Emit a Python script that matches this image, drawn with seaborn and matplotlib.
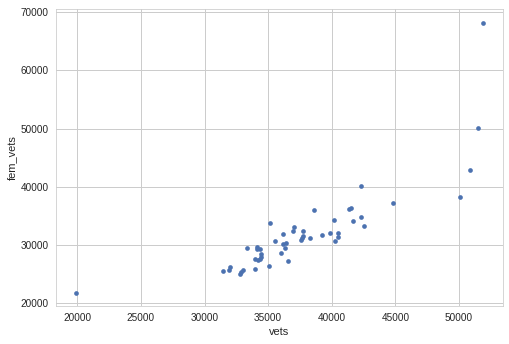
import matplotlib
matplotlib.use("Agg")
import matplotlib.pyplot as plt
import seaborn as sns
import pandas as pd

vets = [19921, 31447, 31921, 32000, 32763, 32895, 33026, 33342,
        34105, 34158, 34342, 34447, 34474, 33974, 34184, 34342, 33974,
        35079, 35158, 35553, 36026, 36184, 36184, 36289, 36421, 36553,
        36974, 37053, 37711, 37763, 37650, 37600, 38316, 38632, 39263,
        39895, 40211, 40289, 40526, 40526, 41342, 41553, 41711, 42263,
        42263, 42500, 44789, 50053, 50868, 51500, 51868]
fem_vets = [21873, 25618, 25789, 26300, 25108, 25448, 25675, 29535,
            29705, 29364, 29364, 28513, 27945, 27662, 27378, 27548, 25959,
            26470, 33791, 30726, 28683, 31918, 30159, 29478, 30443, 27321,
            32429, 33110, 31521, 32429, 31150, 30900, 31237, 36004, 31748,
            32088, 34302, 30726, 32088, 31407, 36174, 36345, 34131, 40091,
            34813, 33280, 37196, 38218, 42815, 50136, 68184]

df = pd.DataFrame({"vets": vets, "fem_vets": fem_vets})

sns.set_style("whitegrid")
plt.rcParams["font.family"] = ["Liberation Sans", "DejaVu Sans"]

fig = plt.figure(figsize=(509 / 72, 344 / 72), dpi=72)
ax = fig.add_axes([56 / 509, 1 - 306 / 344, 447 / 509, 297 / 344])
sns.scatterplot(data=df, x="vets", y="fem_vets", ax=ax, color="#4C72B0",
                s=22, linewidth=0)
ax.tick_params(labelsize=10, colors="#262626", length=0, pad=7)
ax.set_xlabel("vets", fontsize=11, color="#262626")
ax.set_ylabel("fem_vets", fontsize=11, color="#262626")
for sp in ax.spines.values():
    sp.set_color("#cccccc")
ax.grid(color="#cccccc", linewidth=1)
fig.savefig("out.png", dpi=72)
